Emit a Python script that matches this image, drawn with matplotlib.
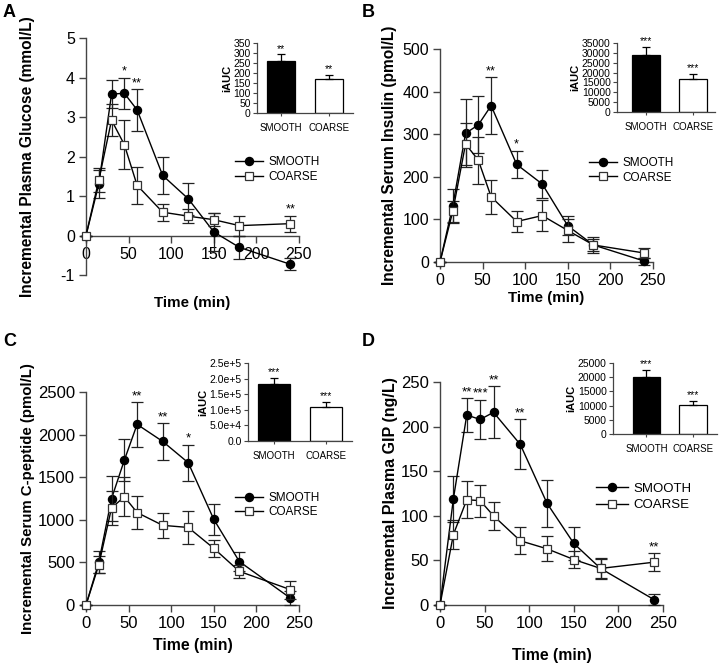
import matplotlib
matplotlib.use("Agg")
import matplotlib.pyplot as plt
from matplotlib.lines import Line2D
import numpy as np

plt.rcParams['font.family'] = ['Liberation Sans', 'DejaVu Sans']
plt.rcParams['axes.unicode_minus'] = False

W, H = 719, 663

time_min = [0, 15, 30, 45, 60, 90, 120, 150, 180, 240]
groups = ["SMOOTH", "COARSE"]

# A: glucose (mmol/L)
glu_smooth = [0, 1.30, 3.58, 3.60, 3.18, 1.52, 0.93, 0.09, -0.30, -0.73]
glu_smooth_err = [0, 0.35, 0.35, 0.40, 0.53, 0.46, 0.40, 0.47, 0.30, 0.15]
glu_coarse = [0, 1.40, 2.92, 2.30, 1.27, 0.59, 0.49, 0.40, 0.25, 0.30]
glu_coarse_err = [0, 0.30, 0.40, 0.62, 0.47, 0.22, 0.18, 0.17, 0.25, 0.20]
glu_stars = {45: "*", 60: "**", 240: "**"}
glu_auc = [258, 172]
glu_auc_err = [35, 18]
glu_auc_stars = ["**", "**"]

# B: insulin (pmol/L)
ins_smooth = [0, 132, 302, 322, 367, 229, 183, 85, 40, 2]
ins_smooth_err = [0, 40, 80, 67, 67, 32, 32, 22, 18, 8]
ins_coarse = [0, 119, 277, 239, 153, 95, 109, 74, 40, 21]
ins_coarse_err = [0, 25, 50, 55, 40, 25, 36, 28, 15, 12]
ins_stars = {60: "**", 90: "*"}
ins_auc = [29000, 16500]
ins_auc_err = [4000, 2800]
ins_auc_stars = ["***", "***"]

# C: C-peptide (pmol/L)
cp_smooth = [0, 500, 1250, 1700, 2120, 1920, 1670, 1005, 510, 80]
cp_smooth_err = [0, 130, 260, 250, 260, 215, 210, 180, 115, 80]
cp_coarse = [0, 470, 1140, 1270, 1085, 935, 910, 665, 395, 180]
cp_coarse_err = [0, 100, 200, 230, 190, 150, 190, 100, 80, 105]
cp_stars = {60: "**", 90: "**", 120: "*"}
cp_auc = [182000, 109000]
cp_auc_err = [20000, 16000]
cp_auc_stars = ["***", "***"]

# D: GIP (ng/L)
gip_smooth = [0, 119, 213, 208, 216, 180, 114, 69, 41, 6]
gip_smooth_err = [0, 26, 19, 22, 29, 28, 26, 19, 11, 6]
gip_coarse = [0, 79, 118, 117, 100, 72, 63, 51, 41, 48]
gip_coarse_err = [0, 16, 21, 18, 16, 15, 14, 9, 12, 10]
gip_stars = {30: "**", 45: "***", 60: "**", 90: "**", 240: "**"}
gip_auc = [20000, 10200]
gip_auc_err = [2500, 1500]
gip_auc_stars = ["***", "***"]

SPINE = '#444444'
MS = 5.8

fig = plt.figure(figsize=(W / 100, H / 100), dpi=100)


def rect(l, t, r, b):
    return [l / W, 1 - b / H, (r - l) / W, (b - t) / H]


def main_panel(box, ylim, yticks, sm, sme, co, coe, stars, ylabel, fs, yfs,
               leg_anchor, leg_fs, leg_sp=0.2, zero_spine=False, ylab_x=None,
               xlab_y=None):
    ax = fig.add_axes(rect(*box))
    ax.set_xlim(0, 250)
    ax.set_ylim(*ylim)
    ax.errorbar(time_min, sm, yerr=sme, color='black', marker='o', ms=MS,
                mfc='black', mec='black', lw=1.0, elinewidth=0.9, capsize=4.5,
                capthick=0.9, ecolor='#222222', clip_on=False, zorder=3)
    ax.errorbar(time_min, co, yerr=coe, color='black', marker='s', ms=MS,
                mfc='white', mec='#333333', mew=0.9, lw=1.0, elinewidth=0.9,
                capsize=4.5, capthick=0.9, ecolor='#222222', clip_on=False,
                zorder=4)
    for t, s in stars.items():
        i = time_min.index(t)
        top = max(sm[i] + sme[i], co[i] + coe[i])
        ax.annotate(s, xy=(t, top), xytext=(0, 0), textcoords='offset points',
                    ha='center', va='bottom', fontsize=fs * 0.8)
    for sp in ['top', 'right']:
        ax.spines[sp].set_visible(False)
    for sp in ['left', 'bottom']:
        ax.spines[sp].set_color(SPINE)
        ax.spines[sp].set_linewidth(1.0)
    if zero_spine:
        ax.spines['bottom'].set_position(('data', 0))
    ax.set_xticks([0, 50, 100, 150, 200, 250])
    ax.set_yticks(yticks)
    ax.tick_params(axis='both', direction='out', length=5, width=1.0,
                   color=SPINE, labelsize=fs, pad=3)
    ax.set_ylabel(ylabel, fontsize=yfs, fontweight='bold')
    ax.set_xlabel("Time (min)", fontsize=fs * 0.95, fontweight='bold')
    if ylab_x is not None:
        ax.yaxis.set_label_coords(ylab_x, 0.5)
    if xlab_y is not None:
        ax.xaxis.set_label_coords(0.5, xlab_y)
    handles = [
        Line2D([], [], color='black', lw=1.0, marker='o', ms=MS,
               mfc='black', mec='black'),
        Line2D([], [], color='black', lw=1.0, marker='s', ms=MS,
               mfc='white', mec='#333333', mew=0.9),
    ]
    ax.legend(handles, groups, loc='center left', bbox_to_anchor=leg_anchor,
              frameon=False, fontsize=leg_fs, handlelength=2.4,
              handletextpad=0.4, labelspacing=leg_sp, borderaxespad=0,
              borderpad=0)
    return ax


def inset(box, xlim, ylim, yticks, yticklabels, vals, errs, stars, fs=7):
    ax = fig.add_axes(rect(*box))
    x = np.arange(len(groups))
    ax.bar(x, vals, width=0.6, color=['black', 'white'], edgecolor='black',
           linewidth=0.9, zorder=2)
    ax.errorbar(x, vals, yerr=[[0, 0], errs], fmt='none', ecolor='black',
                elinewidth=0.9, capsize=3, capthick=0.9, zorder=3)
    for xi, v, e, s in zip(x, vals, errs, stars):
        ax.annotate(s, xy=(xi, v + e), xytext=(0, 0.5),
                    textcoords='offset points', ha='center', va='bottom',
                    fontsize=fs + 0.5)
    ax.set_xlim(*xlim)
    ax.set_ylim(*ylim)
    ax.set_xticks(x)
    ax.set_xticklabels(groups)
    ax.set_yticks(yticks)
    ax.set_yticklabels(yticklabels)
    for sp in ['top', 'right']:
        ax.spines[sp].set_visible(False)
    for sp in ['left', 'bottom']:
        ax.spines[sp].set_color(SPINE)
        ax.spines[sp].set_linewidth(0.9)
    ax.tick_params(axis='y', direction='out', length=3, width=0.8,
                   color=SPINE, labelsize=fs + 0.5, pad=1.5)
    ax.tick_params(axis='x', direction='out', length=2.5, width=0.8,
                   color=SPINE, labelsize=fs, pad=5)
    ax.set_ylabel("iAUC", fontsize=fs + 1, fontweight='bold', labelpad=1)
    ax.patch.set_alpha(0)
    return ax


# Panel A
main_panel((86, 38, 299, 275), (-1, 5), [-1, 0, 1, 2, 3, 4, 5],
           glu_smooth, glu_smooth_err, glu_coarse, glu_coarse_err, glu_stars,
           "Incremental Plasma Glucose (mmol/L)", 11.5, 11.2, (0.70, 0.445), 8.5,
           zero_spine=True, ylab_x=-0.24, xlab_y=-0.089)
inset((257, 43, 353, 113), (-0.5, 1.5), (0, 350), list(range(0, 351, 50)),
      [str(v) for v in range(0, 351, 50)], glu_auc, glu_auc_err, glu_auc_stars)

# Panel B
main_panel((440, 49, 653, 262), (0, 500), [0, 100, 200, 300, 400, 500],
           ins_smooth, ins_smooth_err, ins_coarse, ins_coarse_err, ins_stars,
           "Incremental Serum Insulin (pmol/L)", 11.5, 11.2, (0.70, 0.43), 8.5,
           ylab_x=-0.20, xlab_y=-0.135)
inset((617, 43, 715, 112), (-0.62, 1.48), (0, 35000),
      list(range(0, 35001, 5000)), [str(v) for v in range(0, 35001, 5000)],
      ins_auc, ins_auc_err, ins_auc_stars)

# Panel C
main_panel((86, 392, 299, 605), (0, 2500), [0, 500, 1000, 1500, 2000, 2500],
           cp_smooth, cp_smooth_err, cp_coarse, cp_coarse_err, cp_stars,
           "Incremental Serum C-peptide (pmol/L)", 12, 10.8, (0.70, 0.47), 8.5,
           ylab_x=-0.24, xlab_y=-0.155)
inset((248, 363, 352, 441), (-0.5, 1.5), (0, 250000),
      [0, 50000, 100000, 150000, 200000, 250000],
      ["0.0", "5.0e+4", "1.0e+5", "1.5e+5", "2.0e+5", "2.5e+5"],
      cp_auc, cp_auc_err, cp_auc_stars)

# Panel D
main_panel((440, 382, 663, 605), (0, 250), [0, 50, 100, 150, 200, 250],
           gip_smooth, gip_smooth_err, gip_coarse, gip_coarse_err, gip_stars,
           "Incremental Plasma GIP (ng/L)", 12, 11.5, (0.70, 0.485), 9.5,
           leg_sp=0.35, ylab_x=-0.19, xlab_y=-0.193)
inset((613, 363, 717, 434), (-0.72, 1.52), (0, 25000),
      list(range(0, 25001, 5000)), [str(v) for v in range(0, 25001, 5000)],
      gip_auc, gip_auc_err, gip_auc_stars)

# Panel letters
for lbl, (px, py) in zip("ABCD", [(3, 4), (362, 4), (3, 333), (362, 333)]):
    fig.text(px / W, 1 - py / H, lbl, fontsize=13, fontweight='bold',
             ha='left', va='top')

fig.savefig("out.png", dpi=100)
